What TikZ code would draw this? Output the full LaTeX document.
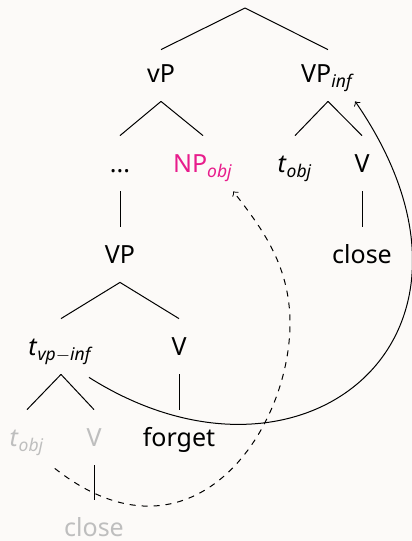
\documentclass[tikz,border=0pt]{standalone}
\usepackage{fontspec}
\setmainfont{Noto Sans}
\definecolor{bgcol}{RGB}{252,250,248}
\definecolor{npcol}{RGB}{232,28,140}
\definecolor{ghost}{RGB}{190,190,190}
\tikzset{
  lbl/.style={anchor=base, inner xsep=0pt, inner ysep=0pt, text height=18pt, text depth=9.5pt, font=\fontsize{12.5}{15}\selectfont},
  ghostlbl/.style={lbl, text=ghost},
  branch/.style={draw=black, line width=0.5pt},
  move/.style={->, line width=0.5pt},
}
\newcommand{\ital}[1]{\textit{#1}}
\newcommand{\sbs}[1]{\textsubscript{\textit{#1}}}
\begin{document}
\begin{tikzpicture}[x=0.5pt, y=-0.5pt]
\fill[bgcol] (0,0) rectangle (412,541);
\useasboundingbox (0,0) rectangle (412,541);
% root
\coordinate (root) at (245,8);
% row 1
\node[lbl] (vP) at (161,82) {vP};
\node[lbl] (VPinf) at (328,82) {VP\sbs{inf}};
% row 2
\node[lbl] (dots) at (120,172) {...};
\node[lbl, text=npcol] (NP) at (203,172) {NP\sbs{obj}};
\node[lbl] (tobj) at (295,172) {\ital{t}\sbs{obj}};
\node[lbl] (Vr) at (362,172) {V};
% row 3
\node[lbl] (VP) at (120,263) {VP};
\node[lbl] (closer) at (362,263) {close};
% row 4
\node[lbl] (tvp) at (61,355) {\ital{t}\textsubscript{\textit{vp}$-$\textit{inf}}};
\node[lbl] (Vm) at (179,355) {V};
% row 5
\node[ghostlbl] (tobjg) at (27,446) {\ital{t}\sbs{obj}};
\node[ghostlbl] (Vg) at (94,446) {V};
\node[lbl] (forget) at (179,446) {forget};
% row 6
\node[ghostlbl] (closeg) at (94,536.5) {close};
% branches
\draw[branch] (root) -- ([yshift=-2]vP.north);
\draw[branch] (root) -- ([yshift=-2]VPinf.north);
\draw[branch] (vP.south) -- (dots.north);
\draw[branch] (vP.south) -- (NP.north);
\draw[branch] (VPinf.south) -- (tobj.north);
\draw[branch] (VPinf.south) -- (Vr.north);
\draw[branch] (dots.south) -- (VP.north);
\draw[branch] (Vr.south) -- (closer.north);
\draw[branch] (VP.south) -- (tvp.north);
\draw[branch] (VP.south) -- (Vm.north);
\draw[branch] (Vm.south) -- (forget.north);
\draw[branch] (tvp.south) -- (tobjg.north);
\draw[branch] (tvp.south) -- (Vg.north);
\draw[branch] (Vg.south) -- (closeg.north);
% movement arrows
\draw[move] ([shift={(-5,3)}]tvp.south east) .. controls (302,512) and (518,338) .. ([shift={(0,0)}]VPinf.south east);
\draw[move, dashed] ([shift={(10,3)}]tobjg.south east) .. controls (190,575) and (290,433) .. (290,323)
  .. controls (290,263) and (259,225) .. (NP.south east);
\end{tikzpicture}
\end{document}
